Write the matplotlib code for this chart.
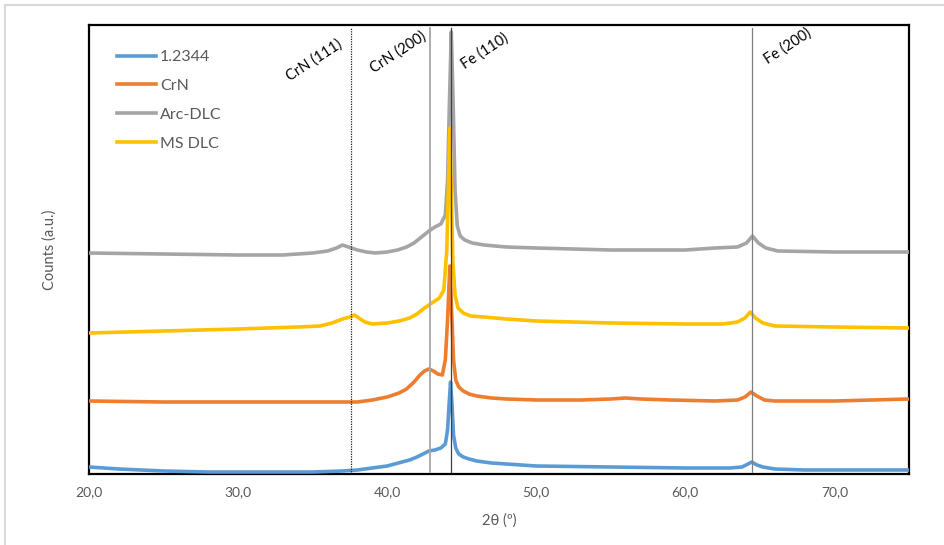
import matplotlib
matplotlib.use("Agg")
import matplotlib.pyplot as plt
from matplotlib.lines import Line2D

plt.rcParams['font.family'] = ['Lato', 'DejaVu Sans']

# ---- data ----
series_names = ["1.2344", "CrN", "Arc-DLC", "MS DLC"]
series_colors = ["#5B9BD5", "#ED7D31", "#A5A5A5", "#FFC000"]

x_steel = [20, 22, 25, 28, 30, 33, 35, 37, 38, 39,
           40, 40.5, 41, 41.5, 42, 42.4, 42.8, 43.2, 43.6, 43.9,
           44.05, 44.15, 44.25, 44.35, 44.45, 44.6, 44.8, 45.1, 45.5, 46,
           47, 48, 50, 55, 60, 63, 63.8, 64.2, 64.45, 64.8,
           65.2, 66, 68, 75]
y_steel = [7, 5, 3, 2, 2, 2, 2, 3, 4, 6,
           8, 10, 12, 14, 17, 20, 23, 24, 26, 30,
           44, 69, 92, 69, 39, 26, 20, 17, 15, 13,
           11, 10, 8, 7, 6, 6, 7, 10, 12, 9,
           7, 5, 4, 4]

x_crn = [20, 25, 30, 35, 38, 39, 40, 40.8, 41.3, 41.8,
         42.2, 42.5, 42.8, 43.1, 43.4, 43.7, 43.9, 44.05, 44.2, 44.32,
         44.45, 44.6, 44.8, 45.1, 45.5, 46, 47, 48, 50, 53,
         55, 56, 57, 59, 62, 63.5, 64.0, 64.4, 64.8, 65.3,
         66, 70, 75]
y_crn = [73, 72, 72, 72, 72, 74, 77, 81, 85, 92,
         99, 103, 105, 103, 100, 99, 114, 154, 208, 164,
         114, 94, 87, 83, 80, 78, 76, 75, 74, 74,
         75, 76, 75, 74, 73, 74, 77, 82, 78, 74,
         73, 73, 75]

x_arc = [20, 25, 30, 33, 35, 36, 36.6, 37.0, 37.4, 38,
         38.6, 39.2, 40, 40.7, 41.3, 41.8, 42.3, 42.8, 43.2, 43.6,
         43.9, 44.05, 44.18, 44.3, 44.42, 44.55, 44.7, 44.9, 45.2, 45.7,
         46.5, 48, 50, 55, 60, 62, 63.5, 64.1, 64.5, 64.9,
         65.4, 66.2, 70, 75]
y_arc = [221, 220, 219, 219, 221, 223, 226, 229, 227, 224,
         222, 221, 222, 224, 227, 231, 237, 243, 247, 250,
         259, 294, 374, 442, 374, 284, 248, 238, 234, 231,
         229, 227, 226, 224, 224, 226, 227, 231, 238, 231,
         226, 223, 222, 222]

x_ms = [20, 25, 30, 34, 35.5, 36.3, 37, 37.5, 37.8, 38.1,
        38.5, 39, 40, 40.8, 41.5, 42, 42.5, 43, 43.5, 43.8,
        44.0, 44.1, 44.2, 44.3, 44.4, 44.55, 44.75, 45.1, 45.6, 46.5,
        48, 50, 55, 60, 62.5, 63.5, 64.0, 64.35, 64.7, 65.2,
        66, 70, 75]
y_ms = [141, 143, 145, 147, 148, 151, 155, 157, 159, 156,
        152, 150, 151, 153, 156, 160, 166, 171, 176, 184,
        224, 284, 346, 284, 214, 179, 166, 161, 158, 157,
        155, 153, 151, 150, 150, 152, 156, 162, 156, 151,
        148, 147, 146]

ref_labels = ["CrN (111)", "CrN (200)", "Fe (110)", "Fe (200)"]
ref_positions = [37.6, 42.85, 44.3, 64.45]

x_ticks = [20, 30, 40, 50, 60, 70]
x_tick_labels = ["20,0", "30,0", "40,0", "50,0", "60,0", "70,0"]

# ---- figure ----
W, H = 944, 545
fig = plt.figure(figsize=(W / 100, H / 100), dpi=100)
L, R, T, B = 89, 909, 25, 474
ax = fig.add_axes([L / W, 1 - B / H, (R - L) / W, (B - T) / H])

xs = [x_steel, x_crn, x_arc, x_ms]
ys = [y_steel, y_crn, y_arc, y_ms]
for xv, yv, name, col in zip(xs, ys, series_names, series_colors):
    ax.plot(xv, yv, color=col, lw=2.6, label=name, solid_joinstyle='round', zorder=3)

# reference lines
styles = [dict(color='#202020', lw=0.9, ls=(0, (1, 1))),
          dict(color='#A6A6A6', lw=1.3, ls='-'),
          dict(color='#404040', lw=0.9, ls='-'),
          dict(color='#7F7F7F', lw=0.9, ls='-')]
for xp, st in zip(ref_positions, styles):
    ax.plot([xp, xp], [2, 446], zorder=4, **st)

ax.set_xlim(20, 75)
ax.set_ylim(0, 449)
ax.set_xticks(x_ticks)
ax.set_xticklabels(x_tick_labels)
ax.set_yticks([])
ax.tick_params(axis='x', length=0, pad=9, labelsize=10, labelcolor='#595959')
for sp in ax.spines.values():
    sp.set_color('black')
    sp.set_linewidth(1.6)

ax.set_xlabel("2θ (º)", fontsize=10.5, color='#595959', labelpad=11)
ax.set_ylabel("Counts (a.u.)", fontsize=10.5, color='#595959')
ax.yaxis.set_label_coords(-(L - 57) / (R - L), 0.5)

# peak labels
label_centers = [(314, 60), (398, 52), (485, 51), (788, 46)]
for txt, (px, py) in zip(ref_labels, label_centers):
    fig.text(px / W, 1 - py / H, txt, rotation=33, rotation_mode='anchor',
             ha='center', va='center', fontsize=10.5, color='black')

# legend
leg = ax.legend(loc='upper left', bbox_to_anchor=(117 / W, 1 - 50 / H),
                bbox_transform=fig.transFigure, frameon=False, fontsize=11.5,
                handlelength=2.45, handletextpad=0.25, labelspacing=0.92,
                borderpad=0, borderaxespad=0)
for t in leg.get_texts():
    t.set_color('#595959')

# outer chart border (left/top visible)
fig.add_artist(Line2D([5 / W, 5 / W], [0, 1 - 5 / H], transform=fig.transFigure,
                      color='#D9D9D9', lw=1.5))
fig.add_artist(Line2D([5 / W, 1], [1 - 5 / H, 1 - 5 / H], transform=fig.transFigure,
                      color='#D9D9D9', lw=1.5))

fig.savefig("out.png", dpi=100)
